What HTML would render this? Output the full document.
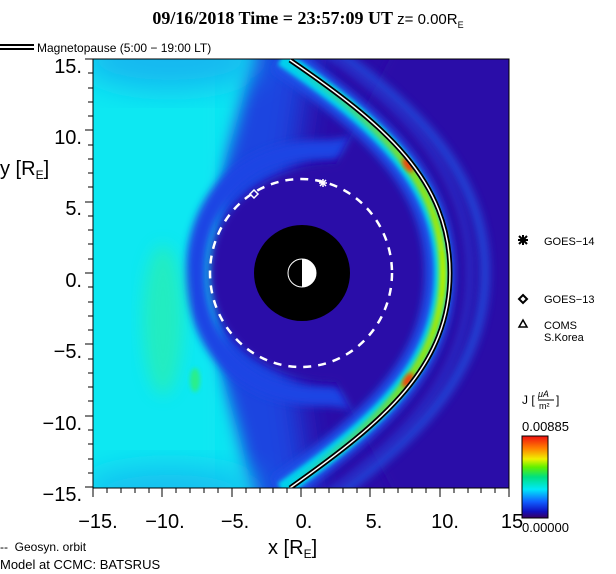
<!DOCTYPE html>
<html><head><meta charset="utf-8"><style>
html,body{margin:0;padding:0;background:#fff;}
body{width:616px;height:574px;position:relative;overflow:hidden;font-family:"Liberation Sans",sans-serif;}
svg{position:absolute;left:0;top:0;}
</style></head><body>
<svg width="616" height="574" viewBox="0 0 616 574" xmlns="http://www.w3.org/2000/svg">
<defs>
<clipPath id="pc"><rect x="93" y="59" width="416" height="429"/></clipPath>
<filter id="b8" x="-30%" y="-30%" width="160%" height="160%"><feGaussianBlur stdDeviation="8"/></filter>
<filter id="b4" x="-30%" y="-30%" width="160%" height="160%"><feGaussianBlur stdDeviation="4"/></filter>
<filter id="b2" x="-30%" y="-30%" width="160%" height="160%"><feGaussianBlur stdDeviation="2"/></filter>
<filter id="b15" x="-30%" y="-30%" width="160%" height="160%"><feGaussianBlur stdDeviation="15"/></filter>
<linearGradient id="cb" x1="0" y1="1" x2="0" y2="0">
<stop offset="0" stop-color="#3a0060"/><stop offset="0.08" stop-color="#1010c0"/><stop offset="0.2" stop-color="#1060ff"/>
<stop offset="0.35" stop-color="#00e8f8"/><stop offset="0.5" stop-color="#00e080"/><stop offset="0.62" stop-color="#60f000"/>
<stop offset="0.72" stop-color="#f0f000"/><stop offset="0.85" stop-color="#ff8000"/><stop offset="1" stop-color="#f01010"/>
</linearGradient>
<linearGradient id="bandg" x1="0" y1="0" x2="0" y2="1">
<stop offset="0" stop-color="#00d0f0"/><stop offset="0.25" stop-color="#80e020"/><stop offset="0.5" stop-color="#b0f000"/><stop offset="0.75" stop-color="#80e020"/><stop offset="1" stop-color="#00d0f0"/>
</linearGradient>
</defs>
<text x="308" y="24" text-anchor="middle" font-family="Liberation Serif,serif" font-weight="bold" font-size="18">09/16/2018 Time = 23:57:09 UT <tspan font-family="Liberation Sans,sans-serif" font-weight="normal" font-size="15">z= 0.00R</tspan><tspan font-family="Liberation Sans,sans-serif" font-weight="normal" font-size="9" dy="4">E</tspan></text>
<line x1="0" y1="45" x2="34" y2="45" stroke="#000" stroke-width="2"/>
<line x1="0" y1="49" x2="34" y2="49" stroke="#000" stroke-width="2"/>
<text x="37" y="52" font-size="12">Magnetopause (5:00 − 19:00 LT)</text>
<g clip-path="url(#pc)">
<rect x="93" y="59" width="416" height="429" fill="#2a0ca8"/>
<path d="M40,20 L320,20 C300,120 290,200 290,273 C290,346 300,430 320,530 L40,530 Z" fill="#1a44e0" filter="url(#b15)"/>
<path d="M40,20 L255,20 C250,120 205,190 200,273 C205,356 250,430 255,530 L40,530 Z" fill="#10e4f2" filter="url(#b8)"/>
<path d="M40,20 L215,20 L215,530 L40,530 Z" fill="#10e8f2" filter="url(#b8)"/>
<ellipse cx="170" cy="60" rx="90" ry="30" fill="#18b8f0" filter="url(#b15)"/>
<ellipse cx="170" cy="490" rx="90" ry="25" fill="#18c0f0" filter="url(#b15)"/>
<path d="M390,140 C340,150 330,150 320,150 C245,150 196,200 196,273 C196,346 245,396 320,396 C330,396 340,396 390,406" fill="none" stroke="#1c44e4" stroke-width="20" filter="url(#b4)"/>
<path d="M336,164 C264,164 210,208 210,273 C210,338 264,382 336,382 L430,560 L620,560 L620,-20 L430,-20 Z" fill="#2a0ca8" filter="url(#b4)"/>
<ellipse cx="163" cy="320" rx="20" ry="75" fill="#30f0a0" opacity="0.6" filter="url(#b8)"/>
<ellipse cx="195" cy="380" rx="5" ry="12" fill="#30f070" opacity="0.8" filter="url(#b2)"/>
<path d="M320,40 C425,110 485,180 485,273 C485,366 425,436 320,508" fill="none" stroke="#2050e0" stroke-width="10" filter="url(#b4)" opacity="0.8"/>
<path d="M305,40 C415,110 470,180 470,273 C470,366 415,436 305,508" fill="none" stroke="#2a40d8" stroke-width="6" filter="url(#b4)" opacity="0.7"/>
<path d="M280,58 C375,123 440,180 440,273 C440,366 375,423 280,490" fill="none" stroke="#1a50e8" stroke-width="30" filter="url(#b4)"/>
<path d="M282,58 C377,123 442,180 442,273 C442,366 377,423 282,490" fill="none" stroke="#00d0f0" stroke-width="16" filter="url(#b2)"/>
<path d="M284,58 C379,123 443,180 443,273 C443,366 379,423 284,490" fill="none" stroke="url(#bandg)" stroke-width="8" filter="url(#b2)"/>
<ellipse cx="408" cy="165" rx="4" ry="8" fill="#f04010" transform="rotate(-35 408 165)" filter="url(#b2)"/>
<ellipse cx="408" cy="380" rx="4" ry="8" fill="#f04010" transform="rotate(35 408 380)" filter="url(#b2)"/>
<path d="M290,60 C385,125 450,180 450,273 C450,366 385,421 290,488" fill="none" stroke="#000" stroke-width="5"/>
<path d="M290,60 C385,125 450,180 450,273 C450,366 385,421 290,488" fill="none" stroke="#fff" stroke-width="1.5"/>
<ellipse cx="301" cy="273" rx="91" ry="94" fill="none" stroke="#fff" stroke-width="2.5" stroke-dasharray="8,7"/>
<circle cx="302" cy="273" r="48" fill="#000"/>
<path d="M302,259 A14,14 0 0 1 302,287 Z" fill="#fff"/>
<circle cx="302" cy="273" r="14" fill="none" stroke="#fff" stroke-width="1"/>
<g stroke="#fff" stroke-width="1.5"><line x1="319" y1="183" x2="327" y2="183"/><line x1="323" y1="179" x2="323" y2="187"/><line x1="320" y1="180" x2="326" y2="186"/><line x1="326" y1="180" x2="320" y2="186"/></g>
<path d="M254,190 L258,194 L254,198 L250,194 Z" fill="none" stroke="#fff" stroke-width="1.5"/>
</g>
<rect x="93" y="59" width="416" height="429" fill="none" stroke="#000" stroke-width="1"/>
<g stroke="#000" stroke-width="1">
<line x1="85" y1="59" x2="93" y2="59"/><line x1="88" y1="73" x2="93" y2="73"/><line x1="88" y1="88" x2="93" y2="88"/><line x1="88" y1="102" x2="93" y2="102"/><line x1="88" y1="116" x2="93" y2="116"/>
<line x1="85" y1="130" x2="93" y2="130"/><line x1="88" y1="145" x2="93" y2="145"/><line x1="88" y1="159" x2="93" y2="159"/><line x1="88" y1="173" x2="93" y2="173"/><line x1="88" y1="187" x2="93" y2="187"/>
<line x1="85" y1="202" x2="93" y2="202"/><line x1="88" y1="216" x2="93" y2="216"/><line x1="88" y1="230" x2="93" y2="230"/><line x1="88" y1="244" x2="93" y2="244"/><line x1="88" y1="259" x2="93" y2="259"/>
<line x1="85" y1="273" x2="93" y2="273"/><line x1="88" y1="287" x2="93" y2="287"/><line x1="88" y1="302" x2="93" y2="302"/><line x1="88" y1="316" x2="93" y2="316"/><line x1="88" y1="330" x2="93" y2="330"/>
<line x1="85" y1="344" x2="93" y2="344"/><line x1="88" y1="359" x2="93" y2="359"/><line x1="88" y1="373" x2="93" y2="373"/><line x1="88" y1="387" x2="93" y2="387"/><line x1="88" y1="401" x2="93" y2="401"/>
<line x1="85" y1="416" x2="93" y2="416"/><line x1="88" y1="430" x2="93" y2="430"/><line x1="88" y1="444" x2="93" y2="444"/><line x1="88" y1="459" x2="93" y2="459"/><line x1="88" y1="473" x2="93" y2="473"/>
<line x1="85" y1="487" x2="93" y2="487"/>
</g>
<g stroke="#000" stroke-width="1">
<line x1="93" y1="488" x2="93" y2="497"/><line x1="107" y1="488" x2="107" y2="493"/><line x1="121" y1="488" x2="121" y2="493"/><line x1="135" y1="488" x2="135" y2="493"/><line x1="149" y1="488" x2="149" y2="493"/>
<line x1="162" y1="488" x2="162" y2="497"/><line x1="176" y1="488" x2="176" y2="493"/><line x1="190" y1="488" x2="190" y2="493"/><line x1="204" y1="488" x2="204" y2="493"/><line x1="218" y1="488" x2="218" y2="493"/>
<line x1="232" y1="488" x2="232" y2="497"/><line x1="246" y1="488" x2="246" y2="493"/><line x1="260" y1="488" x2="260" y2="493"/><line x1="273" y1="488" x2="273" y2="493"/><line x1="287" y1="488" x2="287" y2="493"/>
<line x1="301" y1="488" x2="301" y2="497"/><line x1="315" y1="488" x2="315" y2="493"/><line x1="329" y1="488" x2="329" y2="493"/><line x1="343" y1="488" x2="343" y2="493"/><line x1="357" y1="488" x2="357" y2="493"/>
<line x1="370" y1="488" x2="370" y2="497"/><line x1="384" y1="488" x2="384" y2="493"/><line x1="398" y1="488" x2="398" y2="493"/><line x1="412" y1="488" x2="412" y2="493"/><line x1="426" y1="488" x2="426" y2="493"/>
<line x1="440" y1="488" x2="440" y2="497"/><line x1="454" y1="488" x2="454" y2="493"/><line x1="468" y1="488" x2="468" y2="493"/><line x1="481" y1="488" x2="481" y2="493"/><line x1="495" y1="488" x2="495" y2="493"/>
<line x1="509" y1="488" x2="509" y2="497"/>
</g>
<g font-size="20" fill="#000">
<text x="82" y="73" text-anchor="end">15.</text>
<text x="82" y="144" text-anchor="end">10.</text>
<text x="82" y="215" text-anchor="end">5.</text>
<text x="82" y="287" text-anchor="end">0.</text>
<text x="82" y="358" text-anchor="end">−5.</text>
<text x="82" y="430" text-anchor="end">−10.</text>
<text x="82" y="501" text-anchor="end">−15.</text>
<g text-anchor="middle">
<text x="98" y="528">−15.</text><text x="165" y="528">−10.</text><text x="235" y="528">−5.</text>
<text x="304" y="528">0.</text><text x="374" y="528">5.</text><text x="445" y="528">10.</text><text x="512" y="528">15</text>
</g>
<text x="0" y="175">y [R<tspan font-size="12" dy="4">E</tspan><tspan dy="-4">]</tspan></text>
<text x="268" y="554">x [R<tspan font-size="12" dy="4">E</tspan><tspan dy="-4">]</tspan></text>
</g>
<text x="0" y="551" font-size="12">-- &#160;Geosyn. orbit</text>
<text x="0" y="569" font-size="13">Model at CCMC: BATSRUS</text>
<g stroke="#000" stroke-width="2"><line x1="518" y1="240" x2="528" y2="240"/><line x1="523" y1="235" x2="523" y2="245"/><line x1="519" y1="236" x2="527" y2="244"/><line x1="527" y1="236" x2="519" y2="244"/></g>
<text x="544" y="245" font-size="11">GOES−14</text>
<path d="M523,295 L527,299 L523,303 L519,299 Z" fill="none" stroke="#000" stroke-width="2"/>
<text x="544" y="303" font-size="11">GOES−13</text>
<path d="M523,320 L527,327 L519,327 Z" fill="none" stroke="#000" stroke-width="1.5"/>
<text x="544" y="329" font-size="11">COMS</text>
<text x="544" y="341" font-size="11">S.Korea</text>
<text x="522" y="404" font-size="12">J [</text>
<text x="538" y="397" font-size="9" font-style="italic">μA</text>
<line x1="538" y1="400" x2="554" y2="400" stroke="#000" stroke-width="1"/>
<text x="539" y="409" font-size="9">m²</text>
<text x="556" y="404" font-size="12">]</text>
<text x="522" y="431" font-size="13">0.00885</text>
<rect x="522" y="436" width="26" height="82" fill="url(#cb)" stroke="#000" stroke-width="1"/>
<text x="522" y="532" font-size="13">0.00000</text>
</svg>
</body></html>
